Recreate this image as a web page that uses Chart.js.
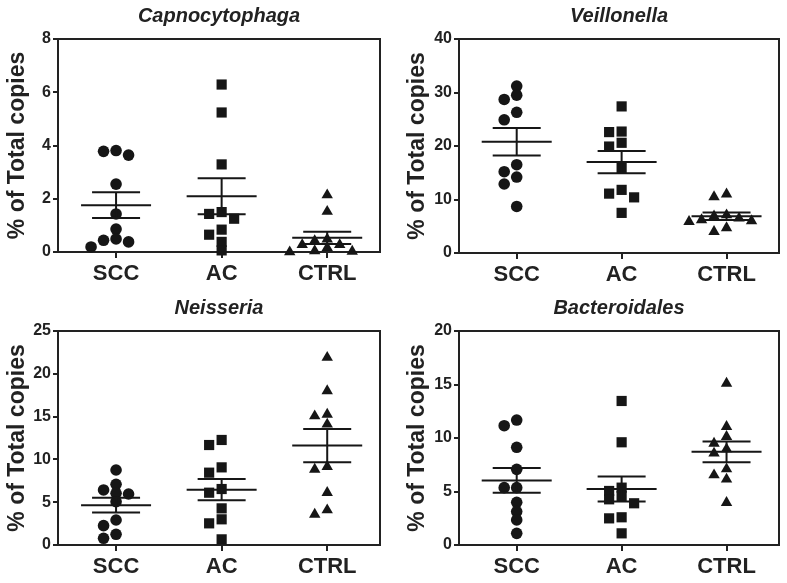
<!DOCTYPE html>
<html><head><meta charset="utf-8">
<script src="https://cdn.jsdelivr.net/npm/chart.js@4.4.1/dist/chart.umd.min.js"></script>
<style>
html,body{margin:0;padding:0;background:#fff;}
#wrap{position:relative;width:787px;height:583px;overflow:hidden;}
canvas{position:absolute;}
</style></head><body>
<div id="wrap">
<canvas id="c1" width="390" height="290" style="left:0;top:0"></canvas>
<canvas id="c2" width="387" height="290" style="left:400px;top:0"></canvas>
<canvas id="c3" width="390" height="293" style="left:0;top:290px"></canvas>
<canvas id="c4" width="387" height="293" style="left:400px;top:290px"></canvas>
</div>
<script>
// ---- data ----
const groups = ['SCC', 'AC', 'CTRL'];
const yLabel = '% of Total copies';

const capTitle = 'Capnocytophaga';
const capTicks = [0, 2, 4, 6, 8];
const capSCC  = [3.81, 3.64, 3.78, 2.55, 1.43, 0.86, 0.44, 0.38, 0.49, 0.19];
const capAC   = [6.29, 5.24, 3.29, 1.50, 1.43, 1.25, 0.84, 0.65, 0.38, 0.06];
const capCTRL = [2.14, 1.52, 0.48, 0.42, 0.27, 0.27, 0.16, 0.04, 0.02, 0.00];

const veiTitle = 'Veillonella';
const veiTicks = [0, 10, 20, 30, 40];
const veiSCC  = [31.2, 28.7, 29.5, 26.3, 24.9, 16.5, 14.2, 15.2, 12.9, 8.7];
const veiAC   = [27.4, 22.6, 22.7, 20.6, 19.9, 15.9, 11.1, 11.8, 10.4, 7.5];
const veiCTRL = [11.0, 10.5, 7.1, 6.9, 6.5, 6.2, 6.0, 5.85, 4.7, 4.0];

const neiTitle = 'Neisseria';
const neiTicks = [0, 5, 10, 15, 20, 25];
const neiSCC  = [8.76, 7.09, 6.43, 6.04, 5.96, 5.06, 2.92, 2.26, 1.25, 0.78];
const neiAC   = [12.27, 11.68, 9.07, 8.45, 6.54, 6.11, 4.28, 3.00, 2.53, 0.66];
const neiCTRL = [21.9, 18.0, 15.26, 15.07, 14.1, 9.15, 8.84, 6.11, 4.09, 3.58];

const bacTitle = 'Bacteroidales';
const bacTicks = [0, 5, 10, 15, 20];
const bacSCC  = [11.68, 11.15, 9.13, 7.07, 5.36, 5.36, 3.99, 3.12, 2.34, 1.09];
const bacAC   = [13.46, 9.60, 5.36, 5.05, 4.58, 4.27, 3.90, 2.59, 2.49, 1.09];
const bacCTRL = [15.1, 11.06, 10.12, 9.5, 8.97, 8.57, 7.1, 6.54, 6.14, 3.96];

// ---- drawing ----
const INK = '#161616';
const FONT = "'Liberation Sans', Arial, Helvetica, sans-serif";

function meanSem(v) {
  const n = v.length, m = v.reduce((a, b) => a + b, 0) / n;
  const sd = Math.sqrt(v.reduce((a, b) => a + (b - m) * (b - m), 0) / (n - 1));
  return {m, sem: sd / Math.sqrt(n)};
}

const framePlugin = {
  id: 'frame',
  beforeDatasetsDraw(chart) {
    const {ctx, chartArea: a} = chart;
    ctx.save();
    ctx.strokeStyle = '#222';
    ctx.lineWidth = 2;
    ctx.strokeRect(a.left, a.top, a.right - a.left, a.bottom - a.top);
    ctx.restore();
  }
};

function makeErrPlugin(series) {
  return {
    id: 'err',
    afterDatasetsDraw(chart) {
      const {ctx} = chart, xs = chart.scales.x, ys = chart.scales.y;
      ctx.save();
      ctx.strokeStyle = INK;
      ctx.lineWidth = 2;
      series.forEach((vals, i) => {
        const {m, sem} = meanSem(vals);
        const cx = xs.getPixelForValue(i + 1);
        const pm = ys.getPixelForValue(m), pu = ys.getPixelForValue(m + sem), pl = ys.getPixelForValue(m - sem);
        ctx.beginPath();
        ctx.moveTo(cx - 35, pm); ctx.lineTo(cx + 35, pm);
        ctx.moveTo(cx - 24, pu); ctx.lineTo(cx + 24, pu);
        ctx.moveTo(cx - 24, pl); ctx.lineTo(cx + 24, pl);
        ctx.moveTo(cx, pu); ctx.lineTo(cx, pl);
        ctx.stroke();
      });
      ctx.restore();
    }
  };
}

function swarm(chart, series) {
  const xs = chart.scales.x, ys = chart.scales.y;
  const step = 12.5, thr = 8;
  series.forEach((vals, i) => {
    const ds = chart.data.datasets[i];
    const cx = xs.getPixelForValue(i + 1);
    const order = vals.map((v, k) => k).sort((a, b) => vals[b] - vals[a]);
    const placed = [];
    order.forEach(k => {
      const py = ys.getPixelForValue(vals[k]);
      for (const s of [0, -1, 1, -2, 2, -3, 3]) {
        if (!placed.some(p => p.s === s && Math.abs(p.py - py) < thr)) {
          placed.push({s, py});
          ds.data[k].x = xs.getValueForPixel(cx + s * step);
          break;
        }
      }
    });
  });
  chart.update('none');
}

function makeChart(id, title, ticks, series, box) {
  const styles = ['circle', 'rect', 'triangle'];
  const radii = [5.8, 7.2, 6.6];
  const datasets = series.map((vals, i) => ({
    data: vals.map(v => ({x: i + 1, y: v})),
    pointStyle: styles[i], pointRadius: radii[i], pointHoverRadius: radii[i],
    backgroundColor: INK, borderColor: INK, borderWidth: 0, clip: false
  }));
  const chart = new Chart(document.getElementById(id), {
    type: 'scatter',
    data: {datasets},
    options: {
      responsive: false, animation: false, events: [],
      layout: {padding: {left: 0, right: box.padR, top: 0, bottom: 0}},
      plugins: {
        legend: {display: false}, tooltip: {enabled: false},
        title: {display: true, text: title, color: '#222', fullSize: false,
          font: {family: FONT, size: 20, style: 'italic', weight: 'bold'},
          padding: {top: box.tPad, bottom: box.bPad}}
      },
      scales: {
        x: {
          type: 'linear', min: 0.45, max: 3.5,
          afterBuildTicks: s => { s.ticks = groups.map((g, k) => ({value: k + 1})); },
          ticks: {callback: v => groups[Math.round(v) - 1], color: '#222', padding: 3,
            font: {family: FONT, size: 22, weight: 'bold'}, maxRotation: 0, autoSkip: false},
          grid: {display: true, drawOnChartArea: false, drawTicks: true, tickLength: 6, color: '#222', lineWidth: 2},
          border: {display: false},
          afterFit: s => { s.height = box.xH; }
        },
        y: {
          min: ticks[0], max: ticks[ticks.length - 1],
          afterBuildTicks: s => { s.ticks = ticks.map(v => ({value: v})); },
          ticks: {color: '#222', padding: 2, font: {family: FONT, size: 16, weight: 'bold'}},
          grid: {display: true, drawOnChartArea: false, drawTicks: true, tickLength: 5, color: '#222', lineWidth: 2},
          border: {display: false},
          title: {display: true, text: yLabel, color: '#222',
            font: {family: FONT, size: 23, weight: 'bold'}, padding: {top: 4, bottom: 0}},
          afterFit: s => { s.width = box.yW; }
        }
      }
    },
    plugins: [framePlugin, makeErrPlugin(series)]
  });
  swarm(chart, series);
  return chart;
}

makeChart('c1', capTitle, capTicks, [capSCC, capAC, capCTRL], {yW: 58, padR: 10, xH: 38, tPad: 4, bPad: 11});
makeChart('c2', veiTitle, veiTicks, [veiSCC, veiAC, veiCTRL], {yW: 59, padR: 8, xH: 37, tPad: 4, bPad: 11});
makeChart('c3', neiTitle, neiTicks, [neiSCC, neiAC, neiCTRL], {yW: 58, padR: 10, xH: 38, tPad: 6, bPad: 11});
makeChart('c4', bacTitle, bacTicks, [bacSCC, bacAC, bacCTRL], {yW: 59, padR: 8, xH: 38, tPad: 6, bPad: 11});
</script>
</body></html>
